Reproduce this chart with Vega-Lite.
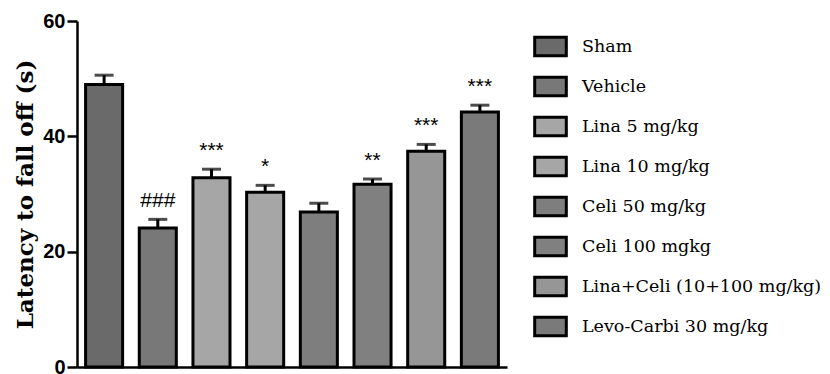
{
  "$schema": "https://vega.github.io/schema/vega-lite/v6.json",
  "width": 430,
  "height": 346,
  "autosize": {"type": "none"},
  "padding": {"left": 77, "top": 21, "right": 323, "bottom": 7},
  "background": "white",
  "config": {"view": {"stroke": null}},
  "data": {
    "values": [
      {"group": "Sham", "value": 49.0, "upper": 50.6, "sig": ""},
      {"group": "Vehicle", "value": 24.1, "upper": 25.6, "sig": "###"},
      {"group": "Lina 5 mg/kg", "value": 32.8, "upper": 34.3, "sig": "***"},
      {"group": "Lina 10 mg/kg", "value": 30.3, "upper": 31.5, "sig": "*"},
      {"group": "Celi 50 mg/kg", "value": 26.9, "upper": 28.4, "sig": ""},
      {"group": "Celi 100 mgkg", "value": 31.7, "upper": 32.6, "sig": "**"},
      {"group": "Lina+Celi (10+100 mg/kg)", "value": 37.4, "upper": 38.6, "sig": "***"},
      {"group": "Levo-Carbi 30 mg/kg", "value": 44.2, "upper": 45.4, "sig": "***"}
    ]
  },
  "encoding": {
    "x": {
      "field": "group",
      "type": "nominal",
      "sort": null,
      "scale": {"paddingInner": 0.31, "paddingOuter": 0.16},
      "axis": {
        "title": null,
        "labels": false,
        "ticks": false,
        "domainColor": "black",
        "domainWidth": 2.5
      }
    }
  },
  "layer": [
    {
      "mark": {"type": "rule", "strokeWidth": 3, "color": "black"},
      "encoding": {
        "y": {"field": "value", "type": "quantitative"},
        "y2": {"field": "upper"}
      }
    },
    {
      "mark": {"type": "tick", "thickness": 3, "size": 19, "color": "black"},
      "encoding": {
        "y": {"field": "upper", "type": "quantitative"}
      }
    },
    {
      "mark": {"type": "bar", "stroke": "black", "strokeWidth": 3},
      "encoding": {
        "y": {
          "field": "value",
          "type": "quantitative",
          "scale": {"domain": [0, 60], "nice": false},
          "axis": {
            "values": [0, 20, 40, 60],
            "grid": false,
            "title": "Latency to fall off (s)",
            "titleFont": "DejaVu Serif",
            "titleFontWeight": "bold",
            "titleFontSize": 23,
            "titleColor": "black",
            "titlePadding": 5,
            "labelFont": "Liberation Sans",
            "labelFontWeight": "bold",
            "labelFontSize": 20,
            "labelColor": "black",
            "labelPadding": 2,
            "tickSize": 10,
            "tickWidth": 2.5,
            "tickColor": "black",
            "domainColor": "black",
            "domainWidth": 2.5
          }
        },
        "fill": {
          "field": "group",
          "type": "nominal",
          "sort": null,
          "scale": {
            "range": ["#6a6a6a", "#787878", "#a6a6a6", "#a6a6a6", "#7e7e7e", "#808080", "#969696", "#7a7a7a"]
          },
          "legend": {
            "title": null,
            "orient": "none",
            "legendX": 456,
            "legendY": 8,
            "padding": 0,
            "symbolType": "M-1,-0.58H1V0.58H-1Z",
            "symbolSize": 1000,
            "symbolStrokeColor": "black",
            "symbolStrokeWidth": 3,
            "symbolOpacity": 1,
            "labelFont": "DejaVu Serif",
            "labelFontSize": 17.5,
            "labelColor": "black",
            "labelOffset": 14,
            "rowPadding": 7,
            "labelLimit": 400
          }
        }
      }
    },
    {
      "mark": {"type": "text", "dy": -18, "baseline": "middle", "font": "Liberation Sans", "fontSize": 21, "color": "black"},
      "encoding": {
        "y": {"field": "upper", "type": "quantitative"},
        "text": {"field": "sig"}
      }
    }
  ]
}
